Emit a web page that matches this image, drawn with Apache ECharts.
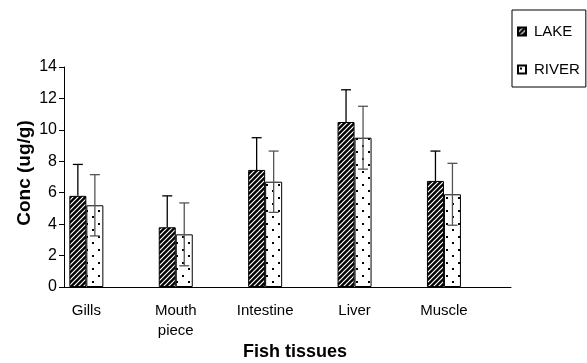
<!DOCTYPE html>
<html>
<head>
<meta charset="utf-8">
<script src="https://cdn.jsdelivr.net/npm/echarts@6/dist/echarts.min.js"></script>
<style>html,body{margin:0;padding:0;background:#fff}#c{width:587px;height:363px}</style>
</head>
<body>
<div id="c"></div>
<script>
var categories = ['Gills', '', 'Mouth\npiece', '', 'Intestine', '', 'Liver', '', 'Muscle', ''];
var lakeValues = [5.8, null, 3.8, null, 7.45, null, 10.5, null, 6.75, null];
var riverValues = [5.2, null, 3.35, null, 6.7, null, 9.5, null, 5.9, null];
var lakeErrors = [2.0, null, 2.0, null, 2.05, null, 2.05, null, 1.9, null];
var riverErrors = [1.95, null, 2.0, null, 1.95, null, 2.0, null, 1.97, null];
var yTicks = [0, 2, 4, 6, 8, 10, 12, 14];

function hatchPattern() {
  var c = document.createElement('canvas');
  c.width = 5; c.height = 5;
  var g = c.getContext('2d');
  g.fillStyle = '#000'; g.fillRect(0, 0, 5, 5);
  g.strokeStyle = '#fff'; g.lineWidth = 1.2;
  g.beginPath();
  g.moveTo(-1, 6); g.lineTo(6, -1);
  g.moveTo(-1, 1); g.lineTo(1, -1);
  g.moveTo(4, 6); g.lineTo(6, 4);
  g.stroke();
  return c;
}
function dotPattern() {
  var c = document.createElement('canvas');
  c.width = 12; c.height = 13;
  var g = c.getContext('2d');
  g.fillStyle = '#fff'; g.fillRect(0, 0, 12, 13);
  g.fillStyle = '#000';
  g.fillRect(2, 2, 2, 2);
  g.fillRect(8, 8, 2, 2);
  return c;
}

var barW = 17;
function errSeries(vals, errs, offset, color, both, name) {
  var data = [];
  vals.forEach(function (v, i) { if (v != null) data.push([i, v, errs[i]]); });
  return {
    type: 'custom', name: name + 'err', z: 10, silent: true,
    data: data, encode: {x: 0, y: 1},
    renderItem: function (params, api) {
      var i = api.value(0), v = api.value(1), e = api.value(2);
      var top = api.coord([i, v + e]);
      var mid = api.coord([i, v]);
      var bot = api.coord([i, v - e]);
      var x = top[0] + offset;
      var ch = [];
      var style = {stroke: color, lineWidth: 1.3};
      ch.push({type: 'line', shape: {x1: x, y1: top[1], x2: x, y2: both ? bot[1] : mid[1]}, style: style});
      ch.push({type: 'line', shape: {x1: x - 5, y1: top[1], x2: x + 5, y2: top[1]}, style: style});
      if (both) ch.push({type: 'line', shape: {x1: x - 5, y1: bot[1], x2: x + 5, y2: bot[1]}, style: style});
      return {type: 'group', children: ch};
    }
  };
}

var chart = echarts.init(document.getElementById('c'), null, {renderer: 'canvas'});
var font = 'Liberation Sans, Arial, sans-serif';
chart.setOption({
  animation: false,
  textStyle: {fontFamily: font, color: '#000'},
  grid: {left: 64, right: 76, top: 67, bottom: 76, containLabel: false, outerBoundsMode: 'none'},
  legend: {
    orient: 'vertical', left: 512, top: 10,
    padding: [14, 6, 10, 5], itemGap: 23,
    itemWidth: 8, itemHeight: 8,
    borderColor: '#000', borderWidth: 1,
    textStyle: {fontSize: 15, color: '#000', fontFamily: font, padding: [0, 0, 0, 3]},
    data: [{name: 'LAKE', icon: 'rect'}, {name: 'RIVER', icon: 'rect'}]
  },
  xAxis: {
    type: 'category', data: categories,
    axisLine: {lineStyle: {color: '#000', width: 1}},
    axisTick: {interval: 0, length: 5, lineStyle: {color: '#000'}},
    axisLabel: {interval: 0, fontSize: 15, color: '#000', margin: 14, lineHeight: 20, fontFamily: font},
    name: 'Fish tissues', nameLocation: 'middle', nameGap: 56, nameMoveOverlap: false,
    nameTextStyle: {fontSize: 18, fontWeight: 'bold', color: '#000', fontFamily: font, padding: [0, 0, 0, 15]}
  },
  yAxis: {
    type: 'value', min: 0, max: 14, interval: 2,
    axisLine: {show: true, lineStyle: {color: '#000', width: 1}},
    axisTick: {show: true, length: 5, lineStyle: {color: '#000'}},
    axisLabel: {fontSize: 16, color: '#000', margin: 7, fontFamily: font,
      formatter: function (v) { return yTicks.indexOf(v) >= 0 ? String(v) : ''; }},
    splitLine: {show: false},
    name: 'Conc (ug/g)', nameLocation: 'middle', nameGap: 30, nameRotate: 90, nameMoveOverlap: false,
    nameTextStyle: {fontSize: 19, fontWeight: 'bold', color: '#000', fontFamily: font, padding: [0, 0, 0, 8]}
  },
  series: [
    {name: 'LAKE', type: 'bar', data: lakeValues, barWidth: barW, barGap: '0%',
      itemStyle: {color: {image: hatchPattern(), repeat: 'repeat'}, borderColor: '#000', borderWidth: 1}},
    {name: 'RIVER', type: 'bar', data: riverValues, barWidth: barW, barGap: '0%',
      itemStyle: {color: {image: dotPattern(), repeat: 'repeat'}, borderColor: '#000', borderWidth: 1}},
    errSeries(lakeValues, lakeErrors, -barW / 2, '#000', false, 'LAKE'),
    errSeries(riverValues, riverErrors, barW / 2, '#555', true, 'RIVER')
  ]
});
</script>
</body>
</html>
